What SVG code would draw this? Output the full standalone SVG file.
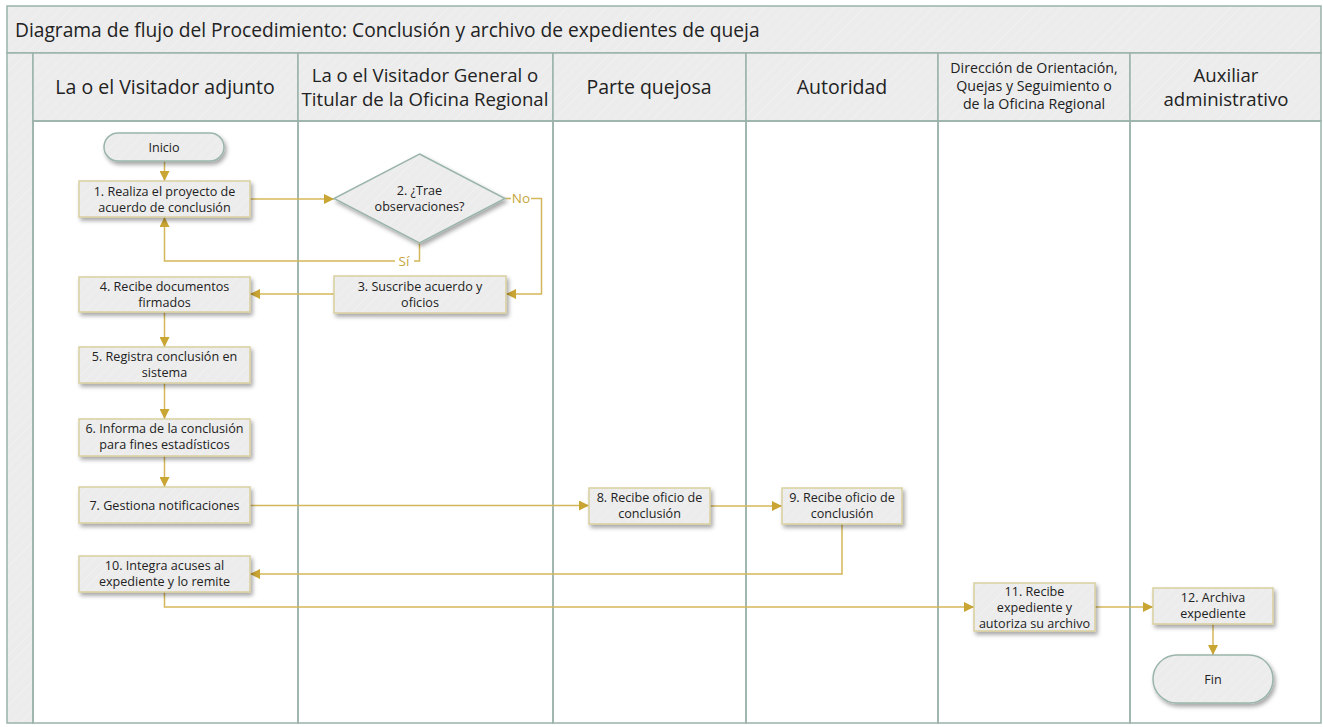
<svg xmlns="http://www.w3.org/2000/svg" width="1323" height="727" viewBox="0 0 1323 727">
<style>
.lane{fill:none;stroke:#9bb2aa;stroke-width:1.5}
.hdr{fill:url(#hatch);stroke:#9bb2aa;stroke-width:1.5}
.box{fill:url(#hatch);stroke:#d8cf9e;stroke-width:1.5;filter:url(#sh)}
.term{fill:url(#hatch);stroke:#9bb5ab;stroke-width:1.5;filter:url(#sh)}
.t{font-family:"Open Sans","Noto Sans",sans-serif;font-size:12.6px;fill:#222;text-anchor:middle}
.h{font-family:"Open Sans","Noto Sans",sans-serif;font-size:19.5px;fill:#222;text-anchor:middle}
.h2{font-family:"Open Sans","Noto Sans",sans-serif;font-size:18.6px;fill:#222;text-anchor:middle}
.hs{font-family:"Open Sans","Noto Sans",sans-serif;font-size:14.2px;fill:#222;text-anchor:middle}
.lbl{font-family:"Open Sans","Noto Sans",sans-serif;font-size:13.5px;fill:#c6a63c;text-anchor:middle}
.c{fill:none;stroke:#d4b75a;stroke-width:1.5}
</style>
<defs>
<pattern id="hatch" width="7" height="7" patternUnits="userSpaceOnUse" patternTransform="rotate(45)">
<rect width="7" height="7" fill="#ececec"/>
<line x1="0" y1="0" x2="0" y2="7" stroke="#f2f2f2" stroke-width="1.5"/>
</pattern>
<filter id="sh" x="-20%" y="-20%" width="140%" height="160%">
<feDropShadow dx="2" dy="3" stdDeviation="2" flood-color="#000" flood-opacity="0.35"/>
</filter>
<marker id="arr" viewBox="0 0 10 10" refX="10" refY="5" markerWidth="10" markerHeight="10" markerUnits="userSpaceOnUse" orient="auto">
<path d="M0,0 L10,5 L0,10 z" fill="#c9a534"/>
</marker>
</defs>
<rect width="1323" height="727" fill="#fff"/>
<g id="frame">
<rect class="hdr" x="7" y="6" width="1314" height="47"/>
<text x="15" y="37" font-family="Open Sans,Noto Sans,sans-serif" font-size="19.2" fill="#222">Diagrama de flujo del Procedimiento: Conclusión y archivo de expedientes de queja</text>
<rect class="hdr" x="7" y="53" width="26" height="670"/>
<rect class="hdr" x="33" y="53" width="265" height="68"/>
<rect class="hdr" x="298" y="53" width="255" height="68"/>
<rect class="hdr" x="553" y="53" width="193" height="68"/>
<rect class="hdr" x="746" y="53" width="192" height="68"/>
<rect class="hdr" x="938" y="53" width="192" height="68"/>
<rect class="hdr" x="1130" y="53" width="191" height="68"/>
<rect class="lane" x="33" y="121" width="265" height="602"/>
<rect class="lane" x="298" y="121" width="255" height="602"/>
<rect class="lane" x="553" y="121" width="193" height="602"/>
<rect class="lane" x="746" y="121" width="192" height="602"/>
<rect class="lane" x="938" y="121" width="192" height="602"/>
<rect class="lane" x="1130" y="121" width="191" height="602"/>
<text class="h" x="165" y="94">La o el Visitador adjunto</text>
<text class="h2" x="425" y="82">La o el Visitador General o</text>
<text class="h2" x="425" y="106">Titular de la Oficina Regional</text>
<text class="h" x="649" y="94">Parte quejosa</text>
<text class="h" x="842" y="94">Autoridad</text>
<text class="hs" x="1034" y="73">Dirección de Orientación,</text>
<text class="hs" x="1034" y="91">Quejas y Seguimiento o</text>
<text class="hs" x="1034" y="109">de la Oficina Regional</text>
<text class="h2" x="1226" y="82">Auxiliar</text>
<text class="h2" x="1226" y="106">administrativo</text>
</g>
<g id="connectors">
<path class="c" d="M164.5,161 V181" marker-end="url(#arr)"/>
<path class="c" d="M250,199 H334" marker-end="url(#arr)"/>
<path class="c" d="M505,198.5 H511 M531,198.5 H541.5 V294 H506" marker-end="url(#arr)"/>
<path class="c" d="M419.5,243 V261 H414 M395,261 H164.5 V217" marker-end="url(#arr)"/>
<path class="c" d="M334,294 H250" marker-end="url(#arr)"/>
<path class="c" d="M164.5,312 V347" marker-end="url(#arr)"/>
<path class="c" d="M164.5,383 V419" marker-end="url(#arr)"/>
<path class="c" d="M164.5,456 V487" marker-end="url(#arr)"/>
<path class="c" d="M250,505.5 H589" marker-end="url(#arr)"/>
<path class="c" d="M710,506 H782" marker-end="url(#arr)"/>
<path class="c" d="M842,524 V574 H250" marker-end="url(#arr)"/>
<path class="c" d="M164.5,592 V607 H974" marker-end="url(#arr)"/>
<path class="c" d="M1095,607 H1153" marker-end="url(#arr)"/>
<path class="c" d="M1213,624 V655" marker-end="url(#arr)"/>
<text class="lbl" x="521" y="203">No</text>
<text class="lbl" x="404" y="266">Sí</text>
</g>
<g id="inicio"><rect class="term" x="104" y="133" width="120" height="28" rx="14"/><text class="t" x="164" y="151.5">Inicio</text></g>
<g id="n1"><rect class="box" x="79" y="181" width="171" height="36"/><text class="t" x="164.5" y="196">1. Realiza el proyecto de</text><text class="t" x="164.5" y="212">acuerdo de conclusión</text></g>
<g id="n2"><polygon class="box" points="419.5,154 505,198.5 419.5,243 334,198.5" style="stroke:#9bb5ab"/><text class="t" x="419.5" y="195">2. ¿Trae</text><text class="t" x="419.5" y="211">observaciones?</text></g>
<g id="n3"><rect class="box" x="334" y="276" width="172" height="37"/><text class="t" x="420" y="291">3. Suscribe acuerdo y</text><text class="t" x="420" y="307">oficios</text></g>
<g id="n4"><rect class="box" x="79" y="277" width="171" height="35"/><text class="t" x="164.5" y="291">4. Recibe documentos</text><text class="t" x="164.5" y="307">firmados</text></g>
<g id="n5"><rect class="box" x="79" y="347" width="171" height="36"/><text class="t" x="164.5" y="361">5. Registra conclusión en</text><text class="t" x="164.5" y="377">sistema</text></g>
<g id="n6"><rect class="box" x="79" y="419" width="171" height="37"/><text class="t" x="164.5" y="433">6. Informa de la conclusión</text><text class="t" x="164.5" y="449">para fines estadísticos</text></g>
<g id="n7"><rect class="box" x="79" y="487" width="171" height="36"/><text class="t" x="164.5" y="509.5">7. Gestiona notificaciones</text></g>
<g id="n8"><rect class="box" x="589" y="488" width="121" height="36"/><text class="t" x="649.5" y="502">8. Recibe oficio de</text><text class="t" x="649.5" y="518">conclusión</text></g>
<g id="n9"><rect class="box" x="782" y="488" width="120" height="36"/><text class="t" x="842" y="502">9. Recibe oficio de</text><text class="t" x="842" y="518">conclusión</text></g>
<g id="n10"><rect class="box" x="79" y="556" width="171" height="36"/><text class="t" x="164.5" y="570">10. Integra acuses al</text><text class="t" x="164.5" y="586">expediente y lo remite</text></g>
<g id="n11"><rect class="box" x="974" y="583" width="121" height="48"/><text class="t" x="1034.5" y="596">11. Recibe</text><text class="t" x="1034.5" y="612">expediente y</text><text class="t" x="1034.5" y="628">autoriza su archivo</text></g>
<g id="n12"><rect class="box" x="1153" y="588" width="120" height="36"/><text class="t" x="1213" y="602">12. Archiva</text><text class="t" x="1213" y="618">expediente</text></g>
<g id="fin"><rect class="term" x="1153" y="655" width="120" height="48" rx="24"/><text class="t" x="1213" y="683.5">Fin</text></g>
</svg>
